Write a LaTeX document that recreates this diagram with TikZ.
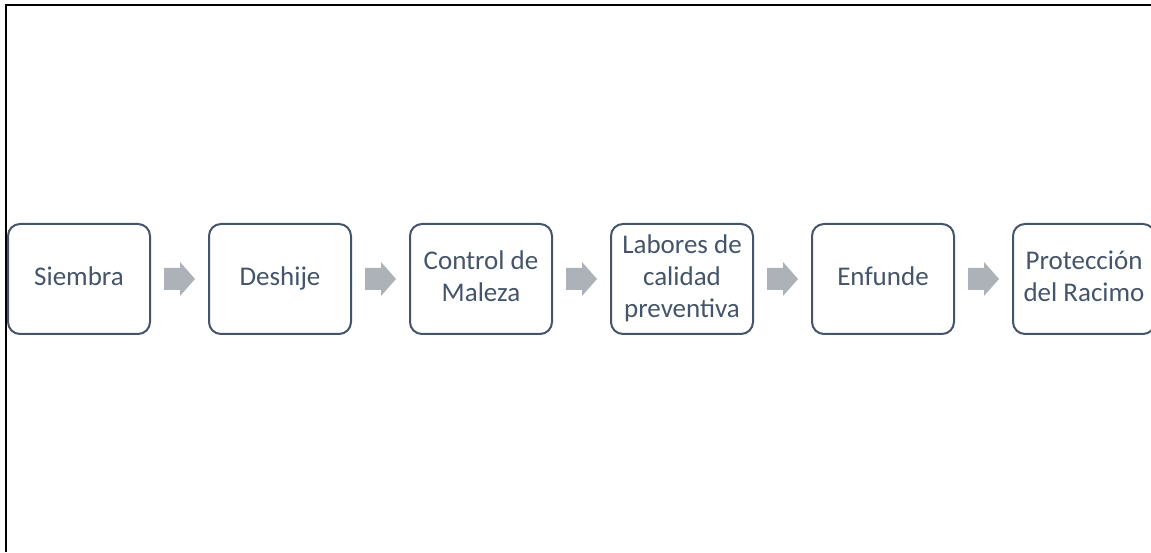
\documentclass[tikz,border=0pt]{standalone}
\usepackage{fontspec}
\setmainfont{Carlito}
\usetikzlibrary{positioning,calc}
\definecolor{slate}{HTML}{44546A}
\definecolor{arrgray}{HTML}{ADB1B8}
\begin{document}
\begin{tikzpicture}[x=1pt,y=1pt,
  paso/.style={draw=slate,line width=2pt,rounded corners=12pt,minimum width=142pt,minimum height=110pt,
    inner sep=2pt,text=slate,align=center,font=\fontsize{27}{32}\selectfont}]
\useasboundingbox (0,0) rectangle (1151,552);
\draw[line width=2pt] (5.5,0) |- (1151,547);
\node[paso] (b1) at (79,273) {\strut Siembra};
\node[paso,right=57pt of b1] (b2) {\strut Deshije};
\node[paso,right=57pt of b2] (b3) {\strut Control de\\Maleza\strut};
\node[paso,right=57pt of b3] (b4) {\strut Labores de\\calidad\\preventiva\strut};
\node[paso,right=57pt of b4] (b5) {\strut Enfunde};
\node[paso,right=57pt of b5] (b6) {\strut Protección\\del Racimo\strut};
\foreach \a/\b in {b1/b2,b2/b3,b3/b4,b4/b5,b5/b6}
  \fill[arrgray] ($(\a.east)!0.5!(\b.west)$) ++(-15.5,-11) -- ++(16,0) -- ++(0,-6) -- ++(15,17)
    -- ++(-15,17) -- ++(0,-6) -- ++(-16,0) -- cycle;
\end{tikzpicture}
\end{document}
